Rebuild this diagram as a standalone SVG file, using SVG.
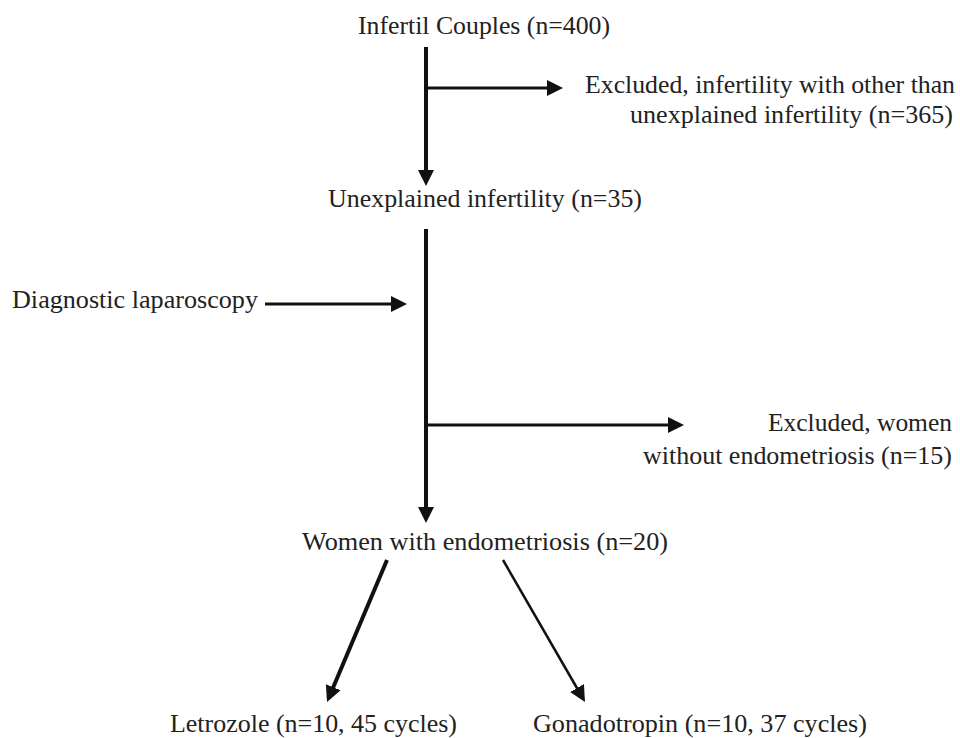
<svg xmlns="http://www.w3.org/2000/svg" width="960" height="738" viewBox="0 0 960 738">
<style>
text{font-family:"Liberation Serif","Times New Roman",Times,serif;font-size:25px;fill:#222}
.ln{stroke:#111;fill:none}
.thick{stroke-width:4}
.mid{stroke-width:3}
.thin{stroke-width:2.5}
</style>
<defs>
<marker id="ah" markerUnits="userSpaceOnUse" markerWidth="18" markerHeight="18" refX="12" refY="8" orient="auto">
<path d="M0,0 L16,8 L0,16 Z" fill="#111"/>
</marker>
</defs>
<rect width="960" height="738" fill="#fff"/>
<g id="connectors">
<line class="ln thick" x1="426" y1="47" x2="426" y2="182" marker-end="url(#ah)"/>
<line class="ln mid" x1="426" y1="88" x2="559" y2="88" marker-end="url(#ah)"/>
<line class="ln thick" x1="426" y1="229" x2="426" y2="519" marker-end="url(#ah)"/>
<line class="ln mid" x1="265" y1="304" x2="403" y2="304" marker-end="url(#ah)"/>
<line class="ln mid" x1="426" y1="425" x2="680" y2="425" marker-end="url(#ah)"/>
<line class="ln thick" x1="387" y1="560" x2="328.6" y2="698.3" marker-end="url(#ah)"/>
<line class="ln thin" x1="503" y1="560" x2="583" y2="698.5" marker-end="url(#ah)"/>
</g>
<g id="node-infertil">
<text x="358" y="34" textLength="252" lengthAdjust="spacingAndGlyphs">Infertil Couples (n=400)</text>
</g>
<g id="node-excluded1">
<text x="585" y="93" textLength="370" lengthAdjust="spacingAndGlyphs">Excluded, infertility with other than</text>
<text x="630" y="123" textLength="323" lengthAdjust="spacingAndGlyphs">unexplained infertility (n=365)</text>
</g>
<g id="node-unexplained">
<text x="328" y="207" textLength="314" lengthAdjust="spacingAndGlyphs">Unexplained infertility (n=35)</text>
</g>
<g id="node-diagnostic">
<text x="12" y="308" textLength="246" lengthAdjust="spacingAndGlyphs">Diagnostic laparoscopy</text>
</g>
<g id="node-excluded2">
<text x="768" y="431" textLength="184" lengthAdjust="spacingAndGlyphs">Excluded, women</text>
<text x="643" y="464" textLength="309" lengthAdjust="spacingAndGlyphs">without endometriosis (n=15)</text>
</g>
<g id="node-women">
<text x="302" y="550" textLength="366" lengthAdjust="spacingAndGlyphs">Women with endometriosis (n=20)</text>
</g>
<g id="node-letrozole">
<text x="170" y="732" textLength="287" lengthAdjust="spacingAndGlyphs">Letrozole (n=10, 45 cycles)</text>
</g>
<g id="node-gonadotropin">
<text x="533" y="732" textLength="334" lengthAdjust="spacingAndGlyphs">Gonadotropin (n=10, 37 cycles)</text>
</g>
</svg>
